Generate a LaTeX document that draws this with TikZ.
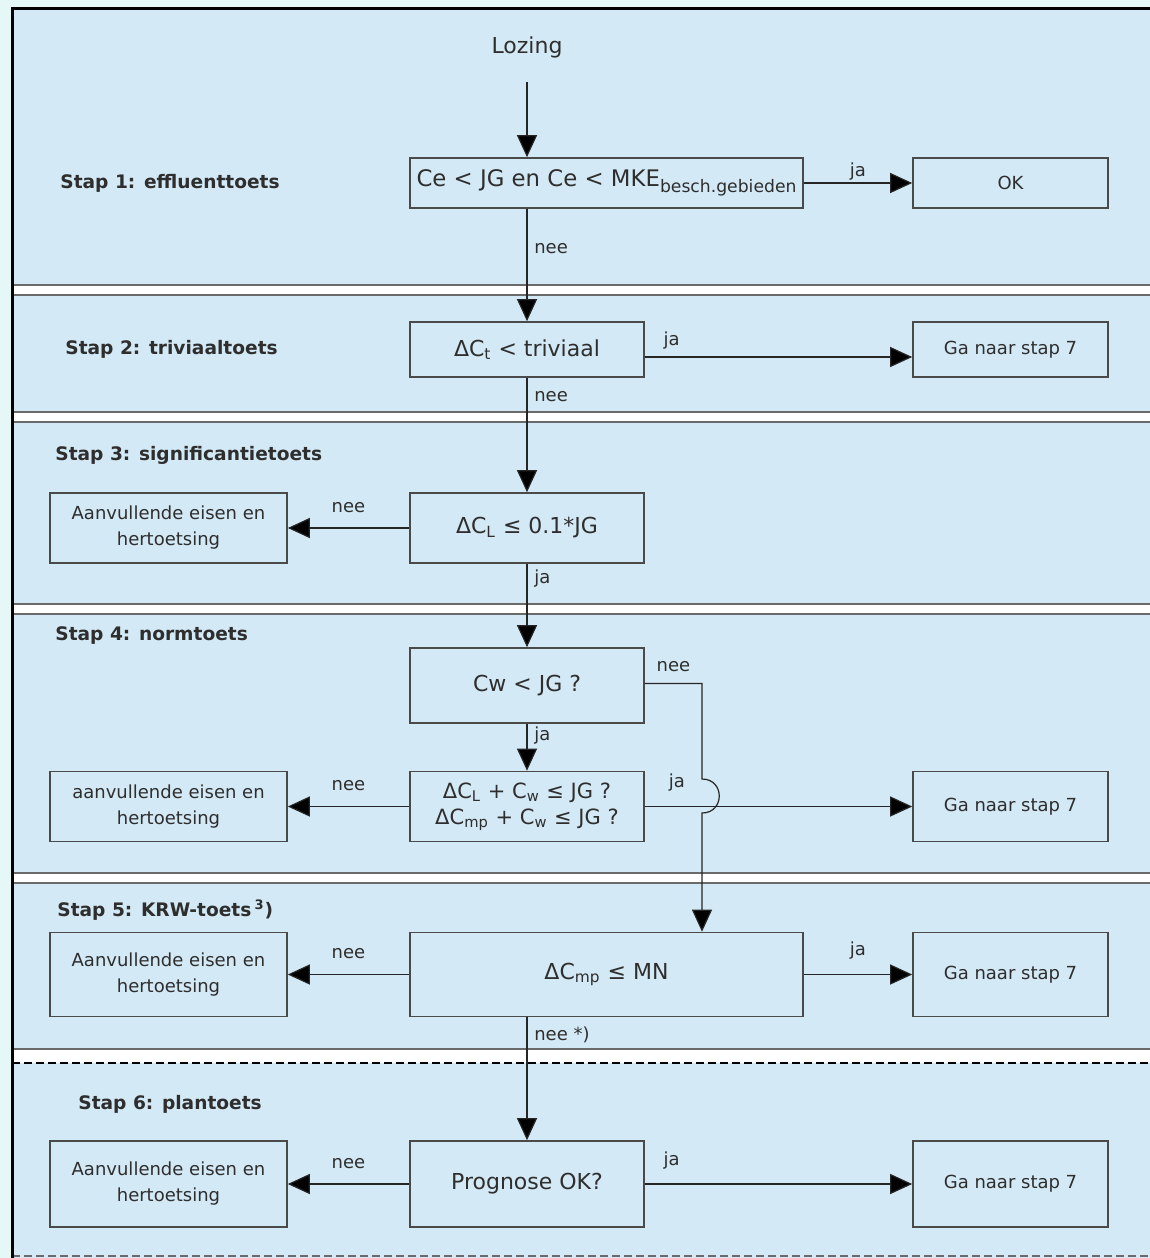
\documentclass[tikz,border=0pt]{standalone}
\usepackage{fontspec}
\setmainfont{DejaVu Sans}
\usetikzlibrary{arrows.meta}
\definecolor{bgout}{HTML}{E6F7F7}
\definecolor{bgin}{HTML}{D3E9F5}
\definecolor{ink}{HTML}{2E2E2E}
\definecolor{rule}{HTML}{6A6A6A}
\newcommand{\sbs}[1]{\textsubscript{#1}}
\begin{document}
\begin{tikzpicture}[x=0.5pt, y=-0.5pt,
    toets/.style={draw=rule!70!black, line width=0.8pt, text=ink, align=center, inner sep=2pt, font=\fontsize{11}{15}\selectfont},
    zijbox/.style={draw=rule!70!black, line width=0.8pt, text=ink, align=center, inner sep=2pt, font=\fontsize{9}{13}\selectfont},
    staplabel/.style={anchor=west, inner sep=0pt, text=ink, font=\fontsize{9.3}{11}\selectfont\bfseries},
    lbl/.style={text=ink, font=\fontsize{9}{11}\selectfont},
    pijl/.style={draw=black!85, line width=0.6pt, -{Triangle[length=11pt,width=10pt,fill=black]}},
    sep/.style={draw=rule, line width=1pt}]
    \useasboundingbox (0,0) rectangle (1150,1258);
    \fill[bgout] (0,0) rectangle (1150,1258);
    \fill[bgin] (12,8) rectangle (1150,1258);
    \foreach \ya/\yb in {285/295, 412/422, 604/614, 873/883}{
        \fill[white] (12,\ya) rectangle (1150,\yb);
        \draw[sep] (12,\ya) -- (1150,\ya) (12,\yb) -- (1150,\yb);
    }
    \fill[white] (12,1049) rectangle (1150,1063);
    \draw[sep] (12,1049) -- (1150,1049);
    \draw[black, line width=1pt, dash pattern=on 4pt off 2pt] (12,1063) -- (1150,1063);
    \draw[rule, line width=0.8pt, dash pattern=on 4pt off 2pt] (12,1256) -- (1150,1256);
    \draw[black, line width=1.5pt] (12,1258) -- (12,8) -- (1150,8);

    \node[staplabel] (stap1) at (60,183) {Stap 1: effluenttoets};
    \node[staplabel] (stap2) at (65,349) {Stap 2: triviaaltoets};
    \node[staplabel] (stap3) at (55,455) {Stap 3: significantietoets};
    \node[staplabel] (stap4) at (55,636) {Stap 4: normtoets};
    \node[staplabel] (stap5) at (57,910) {Stap 5: KRW-toets\,\textsuperscript{3})};
    \node[staplabel] (stap6) at (78,1104) {Stap 6: plantoets};

    \node[text=ink, font=\fontsize{11}{13}\selectfont] (lozing) at (527,47) {Lozing};
    \coordinate (start) at (527,82);
    \node[toets, minimum width=196.5pt, minimum height=25pt, inner sep=1pt, font=\fontsize{11.4}{15}\selectfont] (effl) at (606.5,183)
        {Ce < JG en Ce < MKE\raisebox{-0.45ex}{\fontsize{8.6}{11}\selectfont besch.gebieden}};
    \node[zijbox, minimum width=97.5pt, minimum height=25pt] (ok) at (1010.5,183) {OK};
    \node[toets, minimum width=117pt, minimum height=27.5pt] (triv) at (527,349.5) {ΔC\sbs{t} < triviaal};
    \node[zijbox, minimum width=97.5pt, minimum height=27.5pt] (ga2) at (1010.5,349.5) {Ga naar stap 7};
    \node[toets, minimum width=117pt, minimum height=35pt] (sign) at (527,528) {ΔC\sbs{L} ≤ 0.1*JG};
    \node[zijbox, minimum width=118.5pt, minimum height=35pt] (aanv3) at (168.5,528) {Aanvullende eisen en\\hertoetsing};
    \node[toets, minimum width=117pt, minimum height=37.5pt] (norm) at (527,685.5) {Cw < JG ?};
    \node[toets, minimum width=117pt, minimum height=35pt, font=\fontsize{10.5}{13}\selectfont] (combi) at (527,806.5) {ΔC\sbs{L} + C\sbs{w} ≤ JG ?\\ΔC\sbs{mp} + C\sbs{w} ≤ JG ?};
    \node[zijbox, minimum width=118.5pt, minimum height=35pt] (aanv4) at (168.5,806.5) {aanvullende eisen en\\hertoetsing};
    \node[zijbox, minimum width=97.5pt, minimum height=35pt] (ga4) at (1010.5,806.5) {Ga naar stap 7};
    \node[toets, minimum width=196.5pt, minimum height=42pt] (krw) at (606.5,974.5) {ΔC\sbs{mp} ≤ MN};
    \node[zijbox, minimum width=118.5pt, minimum height=42pt] (aanv5) at (168.5,974.5) {Aanvullende eisen en\\hertoetsing};
    \node[zijbox, minimum width=97.5pt, minimum height=42pt] (ga5) at (1010.5,974.5) {Ga naar stap 7};
    \node[toets, minimum width=117pt, minimum height=43pt] (plan) at (527,1184) {Prognose OK?};
    \node[zijbox, minimum width=118.5pt, minimum height=43pt] (aanv6) at (168.5,1184) {Aanvullende eisen en\\hertoetsing};
    \node[zijbox, minimum width=97.5pt, minimum height=43pt] (ga6) at (1010.5,1184) {Ga naar stap 7};

    \draw[pijl] (start) -- (start |- effl.north);
    \draw[pijl] (effl.east) -- (ok.west) node[lbl, midway, above, inner sep=1pt]{ja};
    \draw[pijl] (effl.south -| triv.north) -- (triv.north) node[lbl, pos=.35, right]{nee};
    \draw[pijl] ([yshift=-3.75pt]triv.east) -- ([yshift=-3.75pt]ga2.west) node[lbl, pos=.1, above]{ja};
    \draw[pijl] (triv.south) -- (sign.north) node[lbl, pos=.16, right]{nee};
    \draw[pijl] (sign.west) -- (aanv3.east) node[lbl, midway, above, yshift=4pt]{nee};
    \draw[pijl] (sign.south) -- (norm.north) node[lbl, pos=.18, right]{ja};
    \draw[pijl] (norm.south) -- (combi.north) node[lbl, pos=.25, right]{ja};
    \draw[pijl] (combi.west) -- (aanv4.east) node[lbl, midway, above, yshift=4pt]{nee};
    \draw[pijl] (combi.east) -- (ga4.west) node[lbl, pos=.12, above, yshift=4pt]{ja};
    \coordinate (jt) at (702,779);
    \coordinate (jb) at (702,813);
    \draw[pijl] ([yshift=1pt]norm.east) -| (jt) node[lbl, pos=.25, above, yshift=2pt]{nee}
        .. controls +(23,0) and +(23,0) .. (jb) -- (jb |- krw.north);
    \draw[pijl] (krw.west) -- (aanv5.east) node[lbl, midway, above, yshift=4pt]{nee};
    \draw[pijl] (krw.east) -- (ga5.west) node[lbl, midway, above, yshift=4pt]{ja};
    \draw[pijl] (krw.south -| plan.north) -- (plan.north) node[lbl, pos=.14, right]{nee *)};
    \draw[pijl] (plan.west) -- (aanv6.east) node[lbl, midway, above, yshift=4pt]{nee};
    \draw[pijl] (plan.east) -- (ga6.west) node[lbl, pos=.1, above, yshift=4pt]{ja};
\end{tikzpicture}
\end{document}
